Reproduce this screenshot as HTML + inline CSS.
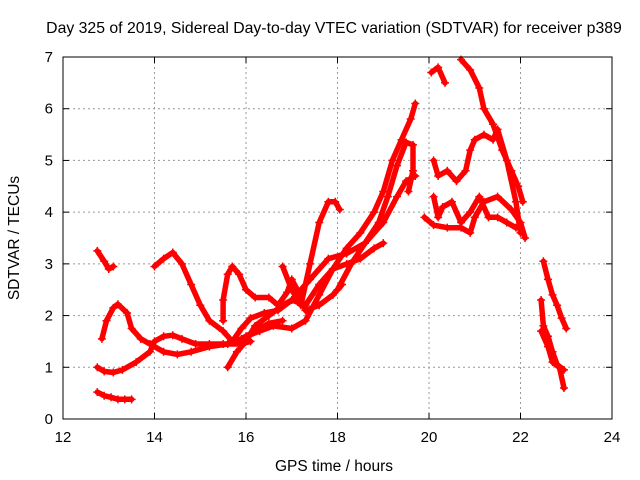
<!DOCTYPE html>
<html><head><meta charset="utf-8"><style>
body{margin:0;background:#fff;}
svg{display:block;font-family:"Liberation Sans",sans-serif;}
</style></head><body>
<svg id="chart" width="640" height="480">
<text x="334" y="33" font-size="15.8" text-anchor="middle">Day 325 of 2019, Sidereal Day-to-day VTEC variation (SDTVAR) for receiver p389</text>
<text x="334" y="471" font-size="15.5" text-anchor="middle">GPS time / hours</text>
<text x="19" y="238" font-size="15.5" text-anchor="middle" transform="rotate(-90 19 238)">SDTVAR / TECUs</text>
<g id="grid"></g><g id="axes"></g><g id="marks"></g>
<rect x="63" y="57" width="549" height="362" fill="none" stroke="#000" stroke-width="1"/>
</svg>
<script>
const xTicks=[12,14,16,18,20,22,24];
const yTicks=[0,1,2,3,4,5,6,7];
const traceA_x=[12.75,12.9,13.05,13.2,13.35,13.5];
const traceA_y=[0.52,0.45,0.42,0.38,0.38,0.38];
const traceB_x=[12.75,12.9,13.0,13.1];
const traceB_y=[3.25,3.05,2.9,2.95];
const traceC_x=[12.85,12.95,13.1,13.2,13.4,13.5,13.7,13.9,14.2,14.5,14.8,15.2,15.6,15.9,16.2,16.5,16.8];
const traceC_y=[1.55,1.9,2.15,2.22,2.05,1.75,1.55,1.45,1.3,1.25,1.3,1.4,1.45,1.55,1.7,1.85,1.9];
const traceD_x=[12.75,12.9,13.1,13.3,13.6,13.9,14.0,14.2,14.4,14.6,14.9,15.2,15.5,15.9,16.1];
const traceD_y=[1.0,0.92,0.9,0.95,1.1,1.3,1.5,1.6,1.62,1.55,1.45,1.45,1.45,1.45,1.5];
const traceE_x=[14.0,14.2,14.4,14.6,14.8,15.0,15.2,15.5,15.7,15.9,16.1,16.4,16.7,17.0,17.4,17.8,18.2,18.6,19.0,19.3,19.5,19.7];
const traceE_y=[2.95,3.1,3.22,3.0,2.6,2.2,1.9,1.7,1.5,1.75,1.95,2.05,2.1,2.3,2.7,3.1,3.2,3.4,3.8,4.3,4.6,4.7];
const traceF_x=[15.5,15.5,15.6,15.7,15.85,16.0,16.2,16.5,16.7,16.9,17.0,17.15,17.3,17.6,17.9,18.1];
const traceF_y=[1.9,2.3,2.8,2.95,2.8,2.5,2.35,2.35,2.2,2.45,2.7,2.45,2.1,2.2,2.4,2.6];
const traceG_x=[15.6,15.8,16.0,16.2,16.5,16.8,17.0,17.3,17.6,17.9,18.2,18.5,18.8,19.0];
const traceG_y=[1.0,1.3,1.5,1.8,2.0,2.2,2.3,2.2,2.6,2.9,3.0,3.1,3.3,3.4];
const traceH_x=[16.0,16.3,16.6,17.0,17.3,17.6,17.9,18.2,18.5,18.8,19.0,19.2,19.4,19.6,19.7];
const traceH_y=[1.6,1.7,1.8,1.75,1.9,2.4,2.9,3.3,3.6,4.0,4.4,5.0,5.4,5.8,6.1];
const traceI_x=[16.8,17.0,17.2,17.4,17.6,17.8,17.95,18.05];
const traceI_y=[2.95,2.5,2.2,3.0,3.8,4.2,4.2,4.05];
const traceJ_x=[18.0,18.3,18.6,18.9,19.1,19.3,19.5,19.65,19.65,19.55];
const traceJ_y=[2.5,3.0,3.4,3.8,4.3,4.9,5.35,5.3,4.8,4.4];
const traceK_x=[19.9,20.1,20.4,20.7,20.9,21.0,21.2,21.5,21.8,22.0,22.1];
const traceK_y=[3.9,3.75,3.7,3.7,3.6,3.9,4.2,4.3,4.05,3.8,3.5];
const traceL_x=[20.05,20.2,20.35];
const traceL_y=[6.7,6.8,6.5];
const traceM_x=[20.7,20.9,21.1,21.2,21.4,21.6,21.8,21.95,22.05];
const traceM_y=[6.95,6.75,6.4,6.0,5.7,5.2,4.8,4.5,4.2];
const traceN_x=[20.1,20.2,20.4,20.6,20.8,20.9,21.0,21.2,21.4,21.5,21.7,21.9,22.0];
const traceN_y=[5.0,4.7,4.8,4.6,4.8,5.2,5.4,5.5,5.4,5.6,5.0,4.2,3.6];
const traceO_x=[20.1,20.2,20.3,20.5,20.7,20.9,21.1,21.3,21.5,21.7,21.9];
const traceO_y=[4.3,3.9,4.1,4.2,3.8,4.0,4.3,3.9,3.9,3.8,3.7];
const traceP_x=[22.5,22.6,22.7,22.8,22.9,23.0];
const traceP_y=[3.05,2.7,2.4,2.2,1.95,1.75];
const traceQ_x=[22.45,22.5,22.6,22.7,22.8,22.95];
const traceQ_y=[2.3,1.8,1.6,1.3,1.05,0.95];
const traceR_x=[22.45,22.6,22.7,22.85,22.95];
const traceR_y=[1.7,1.4,1.1,1.0,0.6];
const traces=[[traceA_x,traceA_y],[traceB_x,traceB_y],[traceC_x,traceC_y],[traceD_x,traceD_y],[traceE_x,traceE_y],[traceF_x,traceF_y],[traceG_x,traceG_y],[traceH_x,traceH_y],[traceI_x,traceI_y],[traceJ_x,traceJ_y],[traceK_x,traceK_y],[traceL_x,traceL_y],[traceM_x,traceM_y],[traceN_x,traceN_y],[traceO_x,traceO_y],[traceP_x,traceP_y],[traceQ_x,traceQ_y],[traceR_x,traceR_y]];

const L=63,R=612,T=57,B=419;
function sx(v){return L+(v-12)/(24-12)*(R-L);}
function sy(v){return B-(v-0)/(7-0)*(B-T);}
const NS="http://www.w3.org/2000/svg";
function mk(tag,attrs,parent){const e=document.createElementNS(NS,tag);for(const k in attrs)e.setAttribute(k,attrs[k]);parent.appendChild(e);return e;}
const grid=document.getElementById('grid'),axes=document.getElementById('axes'),marks=document.getElementById('marks');
xTicks.forEach(t=>{
  const x=sx(t);
  if(t>12&&t<24){const g=mk('line',{x1:x,x2:x,y1:T,y2:B,stroke:'#999','stroke-dasharray':'2,3'},grid);
  
  }
  mk('line',{x1:x,x2:x,y1:B,y2:B-6,stroke:'#000'},axes);
  mk('line',{x1:x,x2:x,y1:T,y2:T+6,stroke:'#000'},axes);
  const tx=mk('text',{x:x,y:B+23,'font-size':15,'text-anchor':'middle'},axes);
  tx.textContent=t;
  
  
});
yTicks.forEach(t=>{
  const y=sy(t);
  if(t>0&&t<7){const g=mk('line',{x1:L,x2:R,y1:y,y2:y,stroke:'#999','stroke-dasharray':'2,3'},grid);
  
  }
  mk('line',{x1:L,x2:L+6,y1:y,y2:y,stroke:'#000'},axes);
  mk('line',{x1:R,x2:R-6,y1:y,y2:y,stroke:'#000'},axes);
  const tx=mk('text',{x:L-10,y:y+5,'font-size':15,'text-anchor':'end'},axes);
  tx.textContent=t;
  
  
});
traces.forEach((tr,i)=>{
  const xs=tr[0],ys=tr[1];
  const pts=xs.map((v,j)=>sx(v).toFixed(1)+','+sy(ys[j]).toFixed(1)).join(' ');
  const pl=mk('polyline',{points:pts,fill:'none',stroke:'#f00','stroke-width':5.5,'stroke-linejoin':'round','stroke-linecap':'round'},marks);
  
  
  xs.forEach((v,j)=>{
    const x=sx(v),y=sy(ys[j]);
    const p=mk('path',{d:`M${x-4},${y}H${x+4}M${x},${y-4}V${y+4}`,stroke:'#f00','stroke-width':1.5},marks);
    
    
  });
});
</script>
</body></html>
